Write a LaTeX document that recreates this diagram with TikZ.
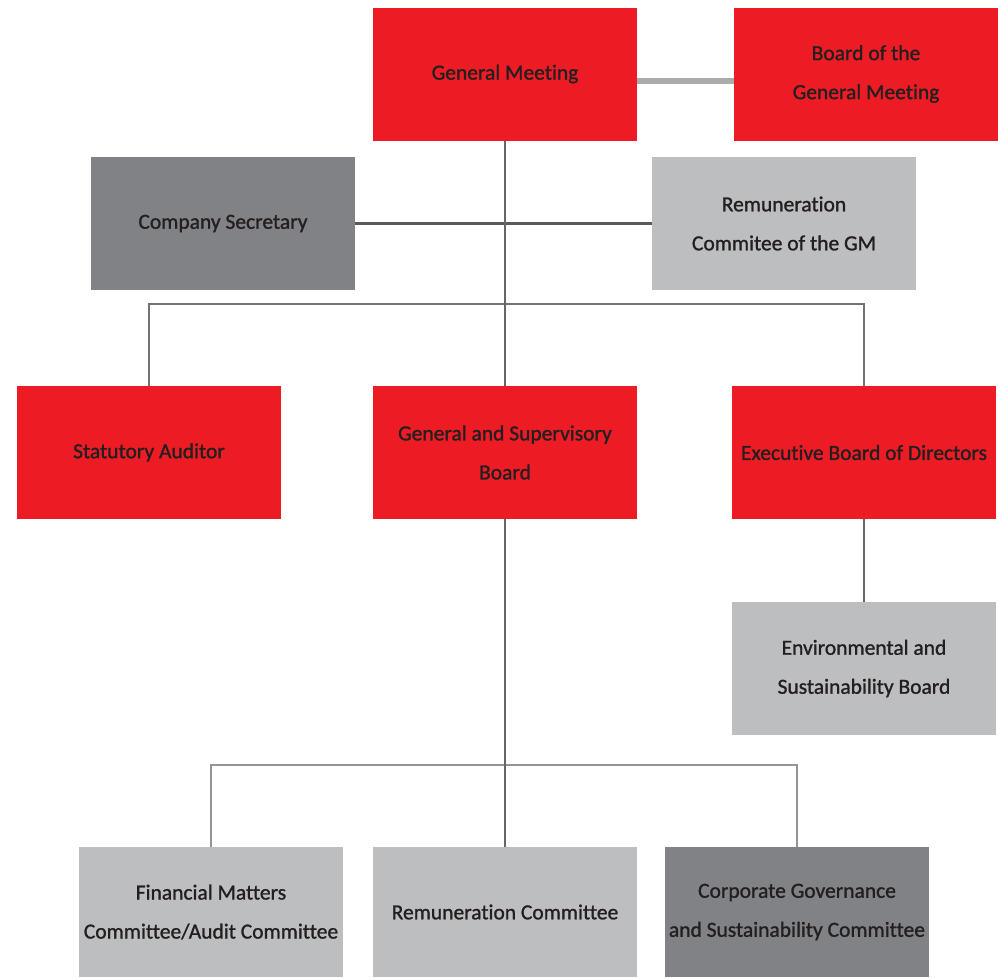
\documentclass[tikz,border=0pt]{standalone}
\usepackage{fontspec}
\setmainfont{Carlito}
\newfontfamily\boxfont{Carlito}[FakeBold=1.2,Ligatures=NoCommon]
\definecolor{cred}{HTML}{ED1C24}
\definecolor{cdark}{HTML}{808285}
\definecolor{clight}{HTML}{BCBEC0}
\definecolor{ctext}{HTML}{231F20}
\begin{document}
\begin{tikzpicture}[x=1pt,y=-1pt,
  box/.style={minimum width=264pt,minimum height=133pt,inner sep=0pt,align=center,
    text=ctext,font=\boxfont\fontsize{21.5}{39}\selectfont},
  redbox/.style={box,fill=cred},
  darkbox/.style={box,fill=cdark},
  lightbox/.style={box,fill=clight},
  conn/.style={line width=2.5pt,draw=#1},
  conn/.default={black!60}]
\useasboundingbox (0,0) rectangle (998,977);
\node[redbox] (gm) at (505,74) {General Meeting};
\node[redbox] (bgm) at (866,74) {Board of the\\General Meeting};
\node[darkbox] (cs) at (223,223.5) {Company Secretary};
\node[lightbox] (rgm) at (784,223.5) {Remuneration\\Commitee of the GM};
\node[redbox] (sa) at (149,452.5) {Statutory Auditor};
\node[redbox] (gsb) at (505,452.5) {General and Supervisory\\Board};
\node[redbox] (ebd) at (864,452.5) {Executive Board of Directors};
\node[lightbox] (esb) at (864,668.5) {Environmental and\\Sustainability Board};
\node[lightbox,minimum height=130pt] (fmc) at (211,912) {Financial Matters\\Committee/Audit Committee};
\node[lightbox,minimum height=130pt] (rc) at (505,912) {Remuneration Committee};
\node[darkbox,minimum height=130pt] (cgc) at (797,912) {Corporate Governance\\and Sustainability Committee};
\coordinate (bus1) at (505,304);
\coordinate (bus2) at (505,765);
\draw[line width=6pt,draw=black!33] ([yshift=-7pt]gm.east) -- ([yshift=-7pt]bgm.west);
\draw[conn=black!65,line width=3pt] (cs.east) -- (rgm.west);
\draw[conn=black!55] (sa.north) |- (bus1) -| (ebd.north);
\draw[conn=black!60] (gm.south) -- (gsb.north);
\draw[conn=black!60] (ebd.south) -- (esb.north);
\draw[conn=black!42] (fmc.north) |- (bus2) -| (cgc.north);
\draw[conn=black!60] (gsb.south) -- (rc.north);
\end{tikzpicture}
\end{document}
